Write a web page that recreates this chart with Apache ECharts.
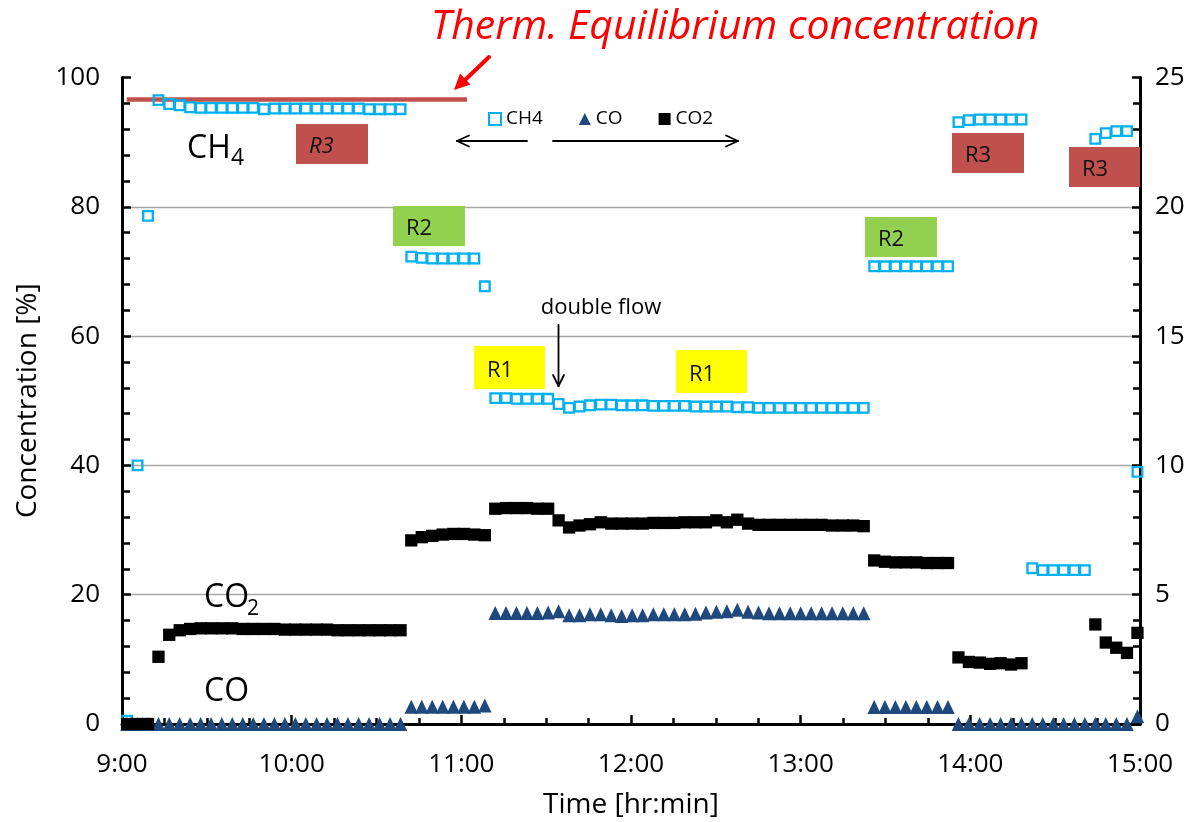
<!DOCTYPE html>
<html>
<head>
<meta charset="utf-8">
<title>Product gas concentration</title>
<script src="https://cdn.jsdelivr.net/npm/echarts@6/dist/echarts.min.js"></script>
<style>
  html, body { margin: 0; padding: 0; background: #fff; }
  #chart { width: 1199px; height: 822px; }
</style>
</head>
<body>
<div id="chart"></div>
<script>
// ---- data -------------------------------------------------------------
// sampling instants, minutes after 9:00
const sampleMinutes = [
  1.8, 5.5, 9.2, 12.9, 16.7, 20.4, 24.1, 27.8, 31.5, 35.3,
  39.0, 42.7, 46.4, 50.2, 53.9, 57.6, 61.3, 65.0, 68.8, 72.5,
  76.2, 79.9, 83.7, 87.4, 91.1, 94.8, 98.5, 102.3, 106.0, 109.7,
  113.4, 117.2, 120.9, 124.6, 128.3, 132.0, 135.8, 139.5, 143.2, 146.9,
  150.7, 154.4, 158.1, 161.8, 165.5, 169.3, 173.0, 176.7, 180.4, 184.1,
  187.9, 191.6, 195.3, 199.0, 202.8, 206.5, 210.2, 213.9, 217.6, 221.4,
  225.1, 228.8, 232.5, 236.3, 240.0, 243.7, 247.4, 251.1, 254.9, 258.6,
  262.3, 266.0, 269.8, 273.5, 277.2, 280.9, 284.6, 288.4, 292.1, 295.8,
  299.5, 303.3, 307.0, 310.7, 314.4, 318.1, 321.9, 325.6, 329.3, 333.0,
  336.8, 340.5, 344.2, 347.9, 351.6, 355.4, 359.1
];

// CH4 concentration [%] (left axis)
const ch4 = [
  0.5, 40.0, 78.6, 96.5, 95.9, 95.7, 95.4, 95.3, 95.3, 95.3,
  95.3, 95.3, 95.3, 95.1, 95.2, 95.2, 95.2, 95.2, 95.2, 95.2,
  95.2, 95.2, 95.2, 95.1, 95.1, 95.1, 95.1, 72.3, 72.1, 72.0,
  72.0, 72.0, 72.0, 72.0, 67.7, 50.4, 50.4, 50.3, 50.3, 50.3,
  50.3, 49.5, 48.9, 49.1, 49.3, 49.4, 49.4, 49.3, 49.3, 49.3,
  49.2, 49.2, 49.2, 49.2, 49.1, 49.1, 49.1, 49.1, 49.0, 49.0,
  48.9, 48.9, 48.9, 48.9, 48.9, 48.9, 48.9, 48.9, 48.9, 48.9,
  48.9, 70.8, 70.8, 70.8, 70.8, 70.8, 70.8, 70.8, 70.8, 93.1,
  93.4, 93.5, 93.5, 93.5, 93.5, 93.5, 24.1, 23.8, 23.8, 23.8,
  23.8, 23.8, 90.5, 91.4, 91.7, 91.7, 39.0
];

// CO concentration (right axis, 0-25)
const co = [
  0, 0, 0, 0, 0, 0, 0, 0, 0, 0,
  0, 0, 0, 0, 0, 0, 0, 0, 0, 0,
  0, 0, 0, 0, 0, 0, 0, 0.67, 0.67, 0.67,
  0.67, 0.67, 0.67, 0.67, 0.72, 4.29, 4.29, 4.29, 4.29, 4.29,
  4.31, 4.36, 4.21, 4.21, 4.24, 4.24, 4.21, 4.18, 4.21, 4.21,
  4.24, 4.24, 4.24, 4.24, 4.26, 4.31, 4.34, 4.36, 4.42, 4.34,
  4.31, 4.28, 4.28, 4.28, 4.28, 4.28, 4.28, 4.28, 4.28, 4.28,
  4.28, 0.66, 0.66, 0.66, 0.66, 0.66, 0.66, 0.66, 0.66, 0,
  0, 0, 0, 0, 0, 0, 0, 0, 0, 0,
  0, 0, 0, 0, 0, 0, 0.3
];

// CO2 concentration [%] (left axis); null = no analysis
const co2 = [
  0, 0, 0, 10.4, 13.8, 14.5, 14.7, 14.8, 14.8, 14.8,
  14.8, 14.7, 14.7, 14.7, 14.7, 14.6, 14.6, 14.6, 14.6, 14.6,
  14.5, 14.5, 14.5, 14.5, 14.5, 14.5, 14.5, 28.4, 28.9, 29.1,
  29.3, 29.4, 29.4, 29.3, 29.2, 33.3, 33.4, 33.4, 33.4, 33.3,
  33.3, 31.5, 30.4, 30.7, 30.9, 31.2, 31.0, 31.0, 31.0, 31.0,
  31.1, 31.1, 31.1, 31.2, 31.2, 31.2, 31.5, 31.2, 31.6, 31.0,
  30.8, 30.8, 30.8, 30.8, 30.8, 30.8, 30.8, 30.7, 30.7, 30.7,
  30.6, 25.3, 25.1, 25.0, 25.0, 25.0, 24.9, 24.9, 24.9, 10.3,
  9.6, 9.5, 9.3, 9.4, 9.2, 9.4, null, null, null, null,
  null, null, 15.4, 12.6, 11.8, 11.0, 14.1
];

// thermodynamic equilibrium CH4 level and the time span it is drawn over
const equilibriumCH4 = 96.6;
const equilibriumSpan = [1.7, 122];

const hourLabels = ['9:00', '10:00', '11:00', '12:00', '13:00', '14:00', '15:00'];

// ---- helpers ------------------------------------------------------------
const FONT = '"Open Sans", "Noto Sans", sans-serif';

function pairs(values) {
  const out = [];
  values.forEach((v, i) => { if (v !== null) out.push([sampleMinutes[i], v]); });
  return out;
}

function txt(text, x, y, size, opts) {
  return {
    type: 'text', silent: true, z: 20,
    style: Object.assign({
      text: text, x: x, y: y, fontSize: size, fontFamily: FONT,
      fill: '#000', align: 'left', verticalAlign: 'middle'
    }, opts || {})
  };
}
function seg(x1, y1, x2, y2, color, w) {
  return { type: 'line', silent: true, z: 20,
    shape: { x1: x1, y1: y1, x2: x2, y2: y2 },
    style: { stroke: color, lineWidth: w, lineCap: 'round' } };
}
function reactorBox(label, x, y, w, h, fill, italic) {
  return [
    { type: 'rect', silent: true, z: 15, shape: { x: x, y: y, width: w, height: h }, style: { fill: fill } },
    txt(label, x + 13, y + h / 2 + 3, 22, { fontStyle: italic ? 'italic' : 'normal', fill: '#111' })
  ];
}

// ---- annotations ----------------------------------------------------------
const graphics = [].concat(
  txt('Therm. Equilibrium concentration', 735, 27, 41, { align: 'center', fontStyle: 'italic', fill: '#ff0000' }),
  // red pointer to the equilibrium line
  seg(489, 57, 465, 80, '#ff0000', 4),
  { type: 'polygon', silent: true, z: 20, shape: { points: [[454, 90], [470.5, 84.5], [460, 73.5]] }, style: { fill: '#ff0000' } },

  // species labels
  txt('CH', 187, 148.5, 32), txt('4', 231, 158, 23),
  txt('CO', 204, 597.5, 32), txt('2', 247, 609, 21),
  txt('CO', 204, 692, 32),

  // direction arrows under the legend
  seg(527, 141, 457, 141, '#000', 1.8), seg(457, 141, 469, 135.5, '#000', 1.8), seg(457, 141, 469, 146.5, '#000', 1.8),
  seg(553, 141, 738, 141, '#000', 1.8), seg(738, 141, 726, 135.5, '#000', 1.8), seg(738, 141, 726, 146.5, '#000', 1.8),

  // double flow marker
  txt('double flow', 601, 308, 22, { align: 'center' }),
  seg(558.5, 325, 558.5, 386, '#000', 1.8), seg(558.5, 386, 553, 375, '#000', 1.8), seg(558.5, 386, 564, 375, '#000', 1.8),

  // reactor configuration tags
  reactorBox('R3', 296, 124, 72, 40, '#c0504d', true),
  reactorBox('R2', 393, 206, 72, 40, '#92d050'),
  reactorBox('R1', 474, 346, 71, 43, '#ffff00'),
  reactorBox('R1', 676, 350, 71, 43, '#ffff00'),
  reactorBox('R2', 865, 217, 72, 40, '#92d050'),
  reactorBox('R3', 952, 133, 72, 40, '#c0504d'),
  reactorBox('R3', 1069, 147, 71, 40, '#c0504d')
);

// ---- chart --------------------------------------------------------------
const axisLabelStyle = { fontSize: 26, color: '#000', fontFamily: FONT };
const axisNameStyle = { fontSize: 28, color: '#000', fontFamily: FONT };

const chart = echarts.init(document.getElementById('chart'), null, { renderer: 'canvas' });
chart.setOption({
  animation: false,
  backgroundColor: '#fff',
  grid: { left: 122, right: 59, top: 77.5, bottom: 98, containLabel: false, outerBoundsMode: 'none' },
  legend: {
    left: 488, top: 109.5, padding: 0,
    itemWidth: 12, itemHeight: 12, itemGap: 36,
    selectedMode: false,
    textStyle: { fontSize: 19, color: '#000', fontFamily: FONT },
    data: [
      { name: 'CH4', icon: 'rect', itemStyle: { color: 'rgba(0,0,0,0)', borderColor: '#00b0f0', borderWidth: 2 } },
      { name: 'CO', icon: 'triangle', itemStyle: { color: '#1f497d' } },
      { name: 'CO2', icon: 'rect', itemStyle: { color: '#000' } }
    ]
  },
  xAxis: {
    type: 'value', min: 0, max: 360, interval: 60,
    axisLine: { show: true, onZero: false, lineStyle: { color: '#000', width: 3 } },
    axisTick: { show: true, inside: true, length: 9, lineStyle: { color: '#000', width: 2.5 } },
    minorTick: { show: true, splitNumber: 4, length: 6, lineStyle: { color: '#000', width: 2.5 } },
    splitLine: { show: false },
    minorSplitLine: { show: false },
    axisLabel: Object.assign({ margin: 28, formatter: v => hourLabels[Math.round(v / 60)] }, axisLabelStyle),
    name: 'Time [hr:min]', nameLocation: 'middle', nameGap: 67, nameMoveOverlap: false,
    nameTextStyle: axisNameStyle
  },
  yAxis: [
    {
      type: 'value', position: 'left', min: 0, max: 100, interval: 20,
      axisLine: { show: true, lineStyle: { color: '#000', width: 3 } },
      axisTick: { show: true, inside: true, length: 9, lineStyle: { color: '#000', width: 2.5 } },
      minorTick: { show: true, splitNumber: 5, length: 8, lineStyle: { color: '#000', width: 2.5 } },
      splitLine: { show: true, showMinLine: false, showMaxLine: false, lineStyle: { color: '#a6a6a6', width: 1.3 } },
      axisLabel: Object.assign({ margin: 22 }, axisLabelStyle),
      name: 'Concentration [%]', nameLocation: 'middle', nameGap: 80, nameRotate: 90, nameMoveOverlap: false,
      nameTextStyle: axisNameStyle
    },
    {
      type: 'value', position: 'right', min: 0, max: 25, interval: 5,
      axisLine: { show: true, lineStyle: { color: '#000', width: 3 } },
      axisTick: { show: true, inside: true, length: 8, lineStyle: { color: '#000', width: 2.5 } },
      minorTick: { show: true, splitNumber: 5, length: 7, lineStyle: { color: '#000', width: 2.5 } },
      splitLine: { show: false },
      axisLabel: Object.assign({ margin: 15 }, axisLabelStyle)
    }
  ],
  series: [
    {
      name: 'Equilibrium', type: 'line', yAxisIndex: 0,
      data: [[equilibriumSpan[0], equilibriumCH4], [equilibriumSpan[1], equilibriumCH4]],
      showSymbol: false, silent: true,
      lineStyle: { color: '#c0504d', width: 4.3 }, z: 1
    },
    {
      name: 'CH4', type: 'scatter', yAxisIndex: 0, data: pairs(ch4),
      symbol: 'rect', symbolSize: 9.6,
      itemStyle: { color: 'rgba(0,0,0,0)', borderColor: '#00b0f0', borderWidth: 2.3, opacity: 1 }, z: 3
    },
    {
      name: 'CO', type: 'scatter', yAxisIndex: 1, data: pairs(co),
      symbol: 'triangle', symbolSize: [13.5, 14],
      itemStyle: { color: '#1f497d', opacity: 1 }, z: 3
    },
    {
      name: 'CO2', type: 'scatter', yAxisIndex: 0, data: pairs(co2),
      symbol: 'rect', symbolSize: 12.3,
      itemStyle: { color: '#000', opacity: 1 }, z: 3
    }
  ],
  graphic: graphics
});
</script>
</body>
</html>
